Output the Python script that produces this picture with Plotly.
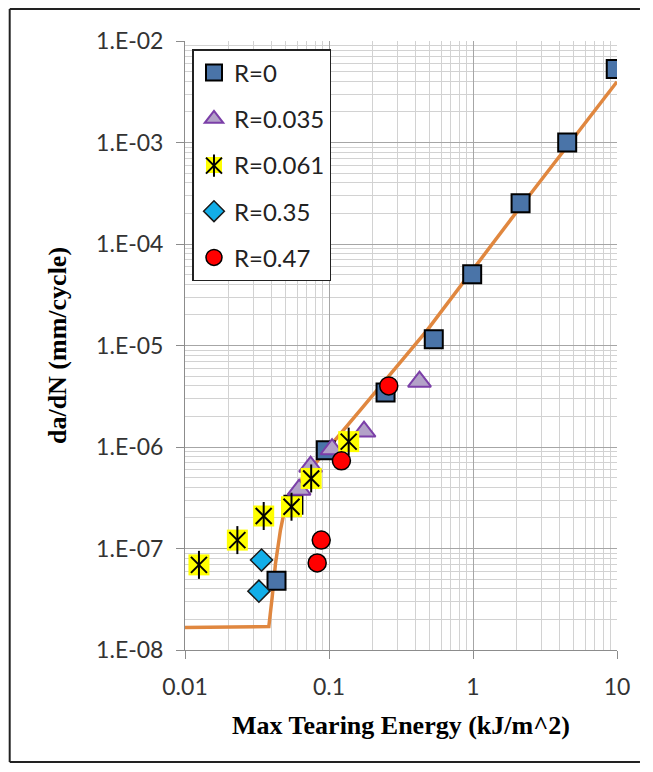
import plotly.graph_objects as go

# ---------------- data ----------------
r0_x = [9.8, 4.51, 2.14, 0.987, 0.534, 0.247, 0.095, 0.0566, 0.0432]
r0_y = [5.3e-3, 1.0e-3, 2.52e-4, 5.03e-5, 1.15e-5, 3.45e-6, 9.3e-7, 2.7e-7, 4.8e-8]

r035_x = [0.425, 0.175, 0.105, 0.0745, 0.062]
r035_y = [4.4e-6, 1.42e-6, 9.5e-7, 6.4e-7, 3.8e-7]

r061_x = [0.0125, 0.0231, 0.0352, 0.0549, 0.0752, 0.137]
r061_y = [6.9e-8, 1.21e-7, 2.09e-7, 2.58e-7, 4.9e-7, 1.13e-6]

r35_x = [0.034, 0.0326]
r35_y = [7.7e-8, 3.8e-8]

r47_x = [0.26, 0.122, 0.0883, 0.0828]
r47_y = [4.0e-6, 7.3e-7, 1.21e-7, 7.2e-8]

fit_x = [0.01, 0.0382, 0.0403, 0.0425, 0.046, 0.0513, 0.1655, 0.481, 1.97, 10.0]
fit_y = [1.67e-8, 1.7e-8, 3.3e-8, 7.1e-8, 1.52e-7, 3.23e-7, 2.32e-6, 1.42e-5, 2.0e-4, 3.97e-3]

series_names = ["R=0", "R=0.035", "R=0.061", "R=0.35", "R=0.47"]

x_tickvals = [0.01, 0.1, 1, 10]
x_ticktext = ["0.01", "0.1", "1", "10"]
y_tickvals = [1e-8, 1e-7, 1e-6, 1e-5, 1e-4, 1e-3, 1e-2]
y_ticktext = ["1.E-08", "1.E-07", "1.E-06", "1.E-05", "1.E-04", "1.E-03", "1.E-02"]

x_title = "Max Tearing Energy (kJ/m^2)"
y_title = "da/dN (mm/cycle)"

# ---------------- figure ----------------
# the page has an 8px body margin on every side, so the figure is made
# smaller (no scrollbars) and every page-pixel position is shifted by it
OFF = 8
W, H = 636, 755
ML = 184.5 - OFF
MT = 41 - OFF
MR = (OFF + W) - 617
MB = (OFF + H) - 650
plot_h = H - MT - MB
plot_w = W - ML - MR


def px_x(p):  # page pixel -> paper x
    return (p - OFF - ML) / plot_w


def px_y(p):  # page pixel -> paper y
    return (H - MB - (p - OFF)) / plot_h


fig = go.Figure()

fig.add_trace(go.Scatter(x=fit_x, y=fit_y, mode="lines",
                         line=dict(color="#E0873F", width=3.5),
                         showlegend=False, hoverinfo="skip"))

fig.add_trace(go.Scatter(x=r0_x, y=r0_y, mode="markers", name=series_names[0],
                         legendgroup="g0",
                         marker=dict(symbol="square", size=18, color="#4A74A8",
                                     line=dict(color="black", width=2))))
fig.add_trace(go.Scatter(x=r035_x, y=r035_y, mode="markers", name=series_names[1],
                         legendgroup="g1",
                         marker=dict(symbol="triangle-up", size=20, color="#B3A2C8",
                                     line=dict(color="#7B3FA8", width=2))))
fig.add_trace(go.Scatter(x=r061_x, y=r061_y, mode="markers", name=series_names[2],
                         legendgroup="g2",
                         marker=dict(symbol="square", size=21, color="#FFFF00",
                                     line=dict(width=0))))
fig.add_trace(go.Scatter(x=r061_x, y=r061_y, mode="markers", name=" ",
                         legendgroup="g2b", legend="legend2",
                         marker=dict(symbol="x-thin-open", size=16, color="black",
                                     line=dict(color="black", width=2))))
fig.add_trace(go.Scatter(x=r061_x, y=r061_y, mode="markers", name=" ",
                         legendgroup="g2c", legend="legend3",
                         marker=dict(symbol="line-ns-open", size=20, color="black",
                                     line=dict(color="black", width=2))))
fig.add_trace(go.Scatter(x=r35_x, y=r35_y, mode="markers", name=series_names[3],
                         legendgroup="g3",
                         marker=dict(symbol="diamond", size=17, color="#12AEE8",
                                     line=dict(color="#1a1a1a", width=1.5))))
fig.add_trace(go.Scatter(x=r47_x, y=r47_y, mode="markers", name=series_names[4],
                         legendgroup="g4",
                         marker=dict(symbol="circle", size=18, color="#FF0000",
                                     line=dict(color="black", width=1.5))))

axis_common = dict(
    type="log", showline=True, linecolor="#8c8c8c", linewidth=1,
    ticks="outside", ticklen=8, tickcolor="#8c8c8c", automargin=False,
    showgrid=True, gridcolor="#a6a6a6", gridwidth=1, zeroline=False,
    tickfont=dict(family="Lato", size=23, color="#333333"),
    minor=dict(dtick="D1", showgrid=True, gridcolor="#d2d2d2", gridwidth=1, ticks=""),
)

legend_x = px_x(192)
legend_top = px_y(49)
row_step = 46.5 / plot_h

border = dict(type="line", xref="paper", yref="paper",
              line=dict(color="#222222", width=2), layer="above")
bx0 = px_x(OFF + 1)
bx1 = px_x(OFF + W - 4)
by_top = px_y(OFF + 1)
by_bot = px_y(OFF + H - 1)

fig.update_layout(
    width=W, height=H,
    margin=dict(l=ML, r=MR, t=MT, b=MB, pad=0, autoexpand=False),
    paper_bgcolor="white", plot_bgcolor="white",
    xaxis=dict(axis_common, range=[-2, 1], tickvals=x_tickvals, ticktext=x_ticktext,
               ticklabelstandoff=8,
               title=dict(text=x_title, standoff=17,
                          font=dict(family="Liberation Serif", size=26, color="black", weight="bold"))),
    yaxis=dict(axis_common, range=[-8, -2], tickvals=y_tickvals, ticktext=y_ticktext,
               ticklabelstandoff=8,
               title=dict(text=y_title, standoff=22,
                          font=dict(family="Liberation Serif", size=26, color="black", weight="bold"))),
    legend=dict(x=legend_x, y=legend_top, xanchor="left", yanchor="top",
                bgcolor="white", bordercolor="#222222", borderwidth=1.5,
                font=dict(family="Lato", size=24, color="#222222"),
                tracegroupgap=12, itemsizing="trace"),
    legend2=dict(x=legend_x, y=legend_top - 2 * row_step,
                 xanchor="left", yanchor="top", bgcolor="rgba(0,0,0,0)", borderwidth=1.5,
                 bordercolor="rgba(0,0,0,0)",
                 font=dict(family="Lato", size=24, color="#222222")),
    legend3=dict(x=legend_x, y=legend_top - 2 * row_step,
                 xanchor="left", yanchor="top", bgcolor="rgba(0,0,0,0)", borderwidth=1.5,
                 bordercolor="rgba(0,0,0,0)",
                 font=dict(family="Lato", size=24, color="#222222")),
    shapes=[
        dict(border, x0=bx0, x1=bx0, y0=by_bot, y1=by_top),
        dict(border, x0=bx0, x1=bx1, y0=by_top, y1=by_top),
        dict(border, x0=bx0, x1=bx1, y0=by_bot, y1=by_bot),
    ],
)

fig.write_html("out.html")
